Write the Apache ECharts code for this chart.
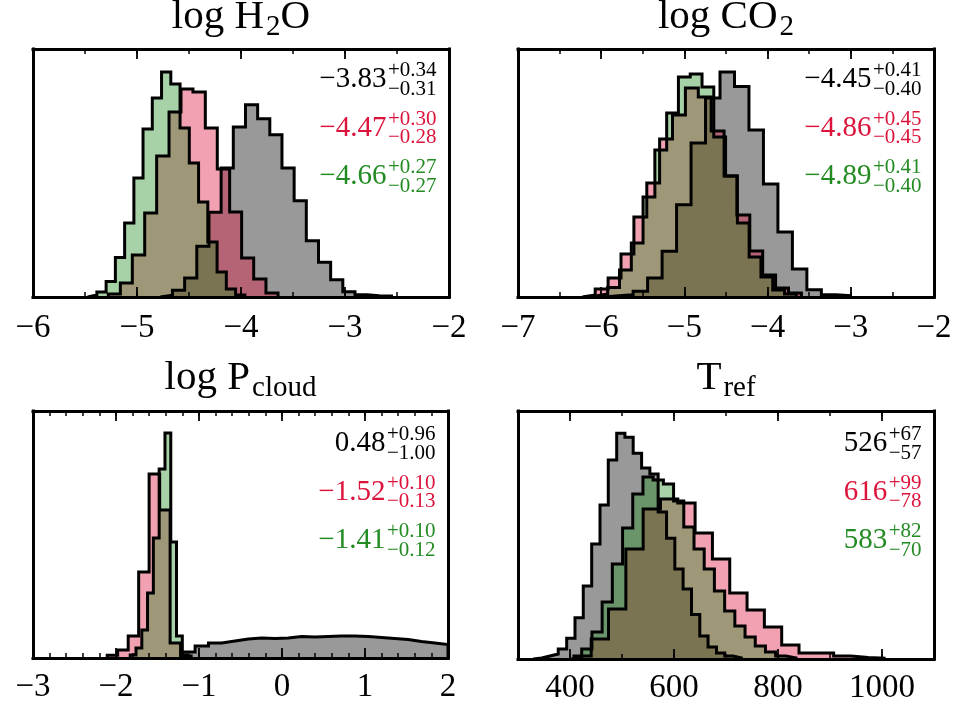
<!DOCTYPE html>
<html><head><meta charset="utf-8">
<script src="https://cdn.jsdelivr.net/npm/echarts@6/dist/echarts.min.js"></script>
<style>html,body{margin:0;padding:0;background:#fff}#chart{width:960px;height:706px}</style>
</head><body><div id="chart"></div>
<script>
// ---------------- DATA (histogram bin edges and heights) ----------------
// Panel 1: log H2O
const h2oGrayEdges = [-4.776,-4.659,-4.542,-4.425,-4.308,-4.191,-4.074,-3.957,-3.840,-3.723,-3.606,-3.489,-3.372,-3.255,-3.138,-3.021,-2.904,-2.787,-2.670,-2.553];
const h2oGrayCounts = [1.7,6.7,19,50.7,84.7,129,170,192.3,178.3,162.3,129,96.3,56.3,34.7,17.3,5.3,2.3,1.3,1];
const h2oRedEdges = [-5.276,-5.160,-5.045,-4.926,-4.811,-4.692,-4.577,-4.462,-4.343,-4.228,-4.109,-3.994,-3.878,-3.760,-3.644];
const h2oRedCounts = [3,14,42,84,141,185,208,205,169,128,85,39,18,4];
const h2oGreenEdges = [-5.475,-5.386,-5.297,-5.208,-5.119,-5.030,-4.942,-4.853,-4.764,-4.675,-4.586,-4.497,-4.408,-4.319,-4.230,-4.141,-4.052,-3.963];
const h2oGreenCounts = [2,5,15.6,39.6,74,119,168,199,225,213,169,134,95,55,25,8,2];
// Panel 2: log CO2
const co2GrayEdges = [-5.964,-5.790,-5.616,-5.442,-5.268,-5.094,-4.920,-4.746,-4.572,-4.398,-4.224,-4.050,-3.876,-3.702,-3.528,-3.354,-3.180,-3.006];
const co2GrayCounts = [1.3,2.3,5.7,19,45.7,92.3,154,199,225,210.6,167,113,65,28,7.3,2.3,1.3];
const co2RedEdges = [-6.227,-6.072,-5.917,-5.762,-5.607,-5.452,-5.298,-5.143,-4.988,-4.833,-4.678,-4.523,-4.369,-4.214,-4.059,-3.904,-3.749,-3.594];
const co2RedCounts = [2,8,19,43,80,114,158,182,209,200,166,121,82,46,22,9,4];
const co2GreenEdges = [-6.205,-6.063,-5.922,-5.780,-5.638,-5.497,-5.355,-5.213,-5.072,-4.930,-4.788,-4.647,-4.505,-4.363,-4.222,-4.080,-3.938,-3.797,-3.655];
const co2GreenCounts = [1,3,9.6,27,54,100,147,184,220,223,210,160,121,74,40,20,7,3];
// Panel 3: log P_cloud
const pcloudGrayEdges = [-1.207,-1.047,-0.886,-0.726,-0.566,-0.405,-0.245,-0.084,0.076,0.237,0.397,0.557,0.718,0.878,1.039,1.199,1.359,1.520,1.680,1.841,2.0];
const pcloudGrayCounts = [6,12,15,17,19,20,19.5,20,21.5,21,21.5,22,22,21.5,20.5,19.5,18.5,16.5,15,13.5];
const pcloudRedEdges = [-2.106,-1.980,-1.853,-1.727,-1.601,-1.474,-1.348,-1.222,-1.095];
const pcloudRedCounts = [2.7,8,22,86,184,148,15,2];
const pcloudGreenEdges = [-1.829,-1.759,-1.689,-1.620,-1.550,-1.480,-1.410,-1.340,-1.271,-1.201,-1.131];
const pcloudGreenCounts = [3,10,28,65,120,189,225,116,22,3];
// Panel 4: T_ref
const trefGrayEdges = [329.4,345.5,361.4,377.4,393.6,409.6,425.5,441.7,457.7,473.6,489.8,505.6,521.5,537.7,553.6,569.5,585.7,601.6,617.5,633.7,649.6,665.5,681.7,697.6,713.5,729.6];
const trefGrayCounts = [1,3,5,10,20.7,41.3,73,115,154,199,225.7,221.7,205.7,191,185,147,120.7,90,70,44.6,23,12,6,3,1];
const trefRedEdges = [407.5,440.8,474.1,507.4,540.7,574.0,607.3,640.6,673.9,707.2,740.5,773.8,807.1,840.4,873.7,907.0,940.3,973.6,1006.9];
const trefRedCounts = [3,20,50,110,150,160,156,126,100,66,49,32,14,6,6,3,1.5,0.7];
const trefGreenEdges = [402.9,422.5,442.2,461.8,481.4,501.1,520.7,540.3,559.9,579.6,599.2,618.8,638.5,658.1,677.7,697.4,717.0,736.6,756.3,775.9,795.5,815.1,834.8];
const trefGreenCounts = [2,10,27,57,95,131,165,182,179,175,158,132,110,90,68,48,33,22,13,7,3,1];

// Axis ranges / ticks
const xRanges = [[-6,-2],[-7,-2],[-3,2],[300,1100]];
const majorSteps = [1,1,1,100];
const minorSteps = [0.5,0.5,0.2,100];
const trefLabelValues = [400,600,800,1000];

// Titles: [text, isSubscript]
const titles = [
  [["log H",0],["2",1],["O",0]],
  [["log CO",0],["2",1]],
  [["log P",0],["cloud",1]],
  [["T",0],["ref",1]]
];
// Annotations: [median, plus, minus] for gray, red, green
const notes = [
  [["\u22123.83","+0.34","\u22120.31"],["\u22124.47","+0.30","\u22120.28"],["\u22124.66","+0.27","\u22120.27"]],
  [["\u22124.45","+0.41","\u22120.40"],["\u22124.86","+0.45","\u22120.45"],["\u22124.89","+0.41","\u22120.40"]],
  [["0.48","+0.96","\u22121.00"],["\u22121.52","+0.10","\u22120.13"],["\u22121.41","+0.10","\u22120.12"]],
  [["526","+67","\u221257"],["616","+99","\u221278"],["583","+82","\u221270"]]
];

// ---------------- STYLE / LAYOUT ----------------
const FONT = '"Liberation Serif", "Times New Roman", serif';
const fills = ['rgba(0,0,0,0.4)','rgba(220,20,60,0.4)','rgba(34,139,34,0.4)'];
const textColors = ['#000000','#dc143c','#228b22'];
const LAYOUT = [
  {left:33, top:49, width:416, height:248},
  {left:518, top:49, width:416, height:248},
  {left:33, top:411, width:415, height:247},
  {left:518, top:411, width:416, height:248}
];
const labelMargins = [15,15,13,13];
const titleBaselines = [31,31,392,392];
const noteFirstBaselines = [89.5,89.5,453.5,453.5];

const panelSeries = [
  [[h2oGrayEdges,h2oGrayCounts],[h2oRedEdges,h2oRedCounts],[h2oGreenEdges,h2oGreenCounts]],
  [[co2GrayEdges,co2GrayCounts],[co2RedEdges,co2RedCounts],[co2GreenEdges,co2GreenCounts]],
  [[pcloudGrayEdges,pcloudGrayCounts],[pcloudRedEdges,pcloudRedCounts],[pcloudGreenEdges,pcloudGreenCounts]],
  [[trefGrayEdges,trefGrayCounts],[trefRedEdges,trefRedCounts],[trefGreenEdges,trefGreenCounts]]
];

function stepData(edges, counts){
  const d = [[edges[0],0]];
  for (let i=0;i<counts.length;i++) d.push([edges[i],counts[i]]);
  d.push([edges[counts.length],counts[counts.length-1]]);
  d.push([edges[counts.length],0]);
  return d;
}
const fmt = v => String(v).replace('-', '\u2212');

const mctx = document.createElement('canvas').getContext('2d');
function tw(str,size){ mctx.font = size+'px '+FONT; return mctx.measureText(str).width; }
const MID = 0.3375;
function textEl(str,x,baseline,size,color,align){
  return {type:'text', x:x, y:baseline-MID*size, silent:true, z:100,
    style:{text:str, font:size+'px '+FONT, fill:color, textAlign:align, align:align, textVerticalAlign:'middle', verticalAlign:'middle'}};
}

const grid=[], xAxis=[], yAxis=[], series=[], graphic=[];
const lineCol = '#000';
for (let p=0;p<4;p++){
  const L = LAYOUT[p];
  grid.push({left:L.left, top:L.top, width:L.width, height:L.height});
  const [xmin,xmax] = xRanges[p];
  const custom = (p===3) ? trefLabelValues : null;
  const base = {type:'value', gridIndex:p, min:xmin, max:xmax, z:10, splitLine:{show:false}};
  const majTick = {show:true, inside:true, length:10, lineStyle:{color:lineCol,width:1.8}};
  const majLabel = {show:true, margin:labelMargins[p], color:'#000', fontFamily:FONT, fontSize:33, formatter:fmt};
  if (custom){ majTick.customValues = custom; majLabel.customValues = custom; }
  xAxis.push(Object.assign({}, base, {position:'bottom', interval:majorSteps[p],
    axisLine:{show:true,onZero:false,lineStyle:{color:lineCol,width:3,cap:'square'}},
    axisTick:majTick, axisLabel:majLabel}));
  xAxis.push(Object.assign({}, base, {position:'bottom', interval:minorSteps[p],
    axisLine:{show:false,onZero:false}, axisTick:{show:true,inside:true,length:5,lineStyle:{color:lineCol,width:1.5}},
    axisLabel:{show:false}}));
  const majTickTop = {show:true, inside:true, length:10, lineStyle:{color:lineCol,width:1.8}};
  if (custom) majTickTop.customValues = custom;
  xAxis.push(Object.assign({}, base, {position:'top', interval:majorSteps[p],
    axisLine:{show:true,onZero:false,lineStyle:{color:lineCol,width:3,cap:'square'}},
    axisTick:majTickTop, axisLabel:{show:false}}));
  xAxis.push(Object.assign({}, base, {position:'top', interval:minorSteps[p],
    axisLine:{show:false,onZero:false}, axisTick:{show:true,inside:true,length:5,lineStyle:{color:lineCol,width:1.5}},
    axisLabel:{show:false}}));
  const ybase = {type:'value', gridIndex:p, min:0, max:L.height, z:10, splitLine:{show:false}, axisTick:{show:false}, axisLabel:{show:false},
    axisLine:{show:true,onZero:false,lineStyle:{color:lineCol,width:3,cap:'square'}}};
  yAxis.push(Object.assign({}, ybase, {position:'left'}));
  yAxis.push(Object.assign({}, ybase, {position:'right'}));

  panelSeries[p].forEach((s,k)=>{
    series.push({type:'line', xAxisIndex:4*p, yAxisIndex:2*p, data:stepData(s[0],s[1]), step:'end',
      symbol:'none', showSymbol:false, silent:true, animation:false, z:2,
      lineStyle:{color:'#000', width:3, join:'miter'}, itemStyle:{color:'#000'},
      areaStyle:{color:fills[k], opacity:1}});
  });

  // title
  const tparts = titles[p];
  const mainF = 41, subF = 29;
  let total = 0;
  tparts.forEach(t=>{ total += tw(t[0], t[1]?subF:mainF) + (t[1]?2:0); });
  let x = L.left + L.width/2 - total/2;
  tparts.forEach(t=>{
    const f = t[1]?subF:mainF;
    if (t[1]) x += 2;
    graphic.push(textEl(t[0], x, titleBaselines[p] + (t[1]?6:0), f, '#000', 'left'));
    x += tw(t[0], f);
  });

  // annotations
  const rightX = L.left + L.width - 12.5;
  notes[p].forEach((n,k)=>{
    const b = noteFirstBaselines[p] + 48.3*k;
    const supF = 21, mainF2 = 29;
    const w = Math.max(tw(n[1],supF), tw(n[2],supF));
    const sx = rightX - w;
    graphic.push(textEl(n[0], sx-1.5, b, mainF2, textColors[k], 'right'));
    graphic.push(textEl(n[1], sx, b-11.5, supF, textColors[k], 'left'));
    graphic.push(textEl(n[2], sx, b+7, supF, textColors[k], 'left'));
  });
}

const chart = echarts.init(document.getElementById('chart'), null, {renderer:'canvas'});
chart.setOption({animation:false, backgroundColor:'#fff', grid, xAxis, yAxis, series, graphic});
</script>
</body></html>
